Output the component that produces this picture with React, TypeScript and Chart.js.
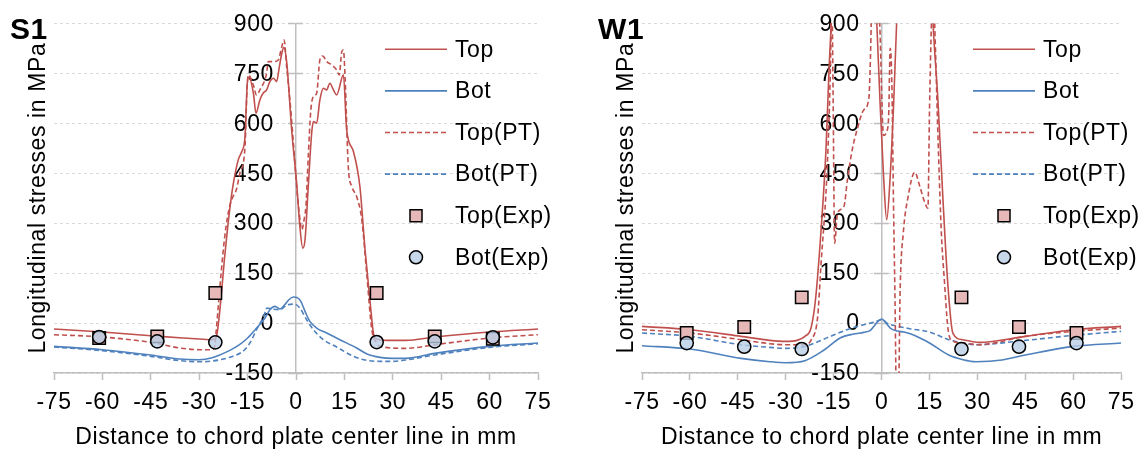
import React, { useEffect, useRef } from 'react';
import { Chart, registerables } from 'chart.js';

Chart.register(...registerables);

type Pt = [number, number];

const FONT = "'Liberation Sans', Arial, Helvetica, sans-serif";
const FONT_SIZE = 23;
const LETTER_SPACING = '0.6px';
Chart.defaults.font.family = FONT;
Chart.defaults.color = '#000';

// ---- axes / labels ----
const xTickValues = [-75, -60, -45, -30, -15, 0, 15, 30, 45, 60, 75];
const yTickValues = [-150, 0, 150, 300, 450, 600, 750, 900];
const seriesNames = ['Top', 'Bot', 'Top(PT)', 'Bot(PT)', 'Top(Exp)', 'Bot(Exp)'];
const panelLabels = ['S1', 'W1'];
const xAxisTitle = 'Distance to chord plate center line in mm';
const yAxisTitle = 'Longitudinal stresses in MPa';

// ---- S1 series (x in mm, y in MPa) ----
const s1Top: Pt[] = [
  [-75, -18], [-60, -27], [-45, -38], [-35, -45], [-30, -48], [-27, -50], [-25.5, -49], [-24.6, -38],
  [-23.8, 20], [-23, 100], [-22.2, 190], [-21.2, 285], [-20.3, 360], [-19.4, 420], [-17.9, 490],
  [-16.8, 515], [-15.8, 560], [-15.1, 720], [-14.6, 738], [-13.2, 690], [-12.4, 630], [-11.2, 670],
  [-10.2, 690], [-9.1, 700], [-8.1, 725], [-7, 735], [-6, 725], [-5.2, 767], [-4.4, 810], [-3.8, 828],
  [-2.9, 785], [-1.3, 575], [0.2, 420], [1.2, 290], [2.1, 225], [2.8, 250], [3.8, 410], [4.9, 575],
  [5.4, 605], [6.4, 600], [7.4, 670], [8.5, 705], [9.5, 700], [10.5, 720], [11.6, 700], [12.6, 685],
  [14.7, 745], [15.7, 580], [17.8, 515], [19.8, 410], [21.4, 220], [22.9, 70], [24, -30], [25, -48],
  [28, -52], [34, -52], [43, -42], [60, -27], [75, -18],
];
const s1Bot: Pt[] = [
  [-75, -70], [-60, -80], [-45, -96], [-36, -108], [-30, -110], [-26, -104], [-20.5, -82], [-17.5, -65],
  [-15, -45], [-12.2, -15], [-9.6, 15], [-8.1, 40], [-6.5, 50], [-5, 42], [-3.5, 55], [-2.2, 70],
  [-0.8, 78], [0.3, 77], [1.5, 65], [2.8, 35], [4.3, 5], [6.4, -15], [9.5, -30], [13.6, -50],
  [18.8, -75], [22, -93], [26, -103], [30, -106], [34, -106], [43, -91], [60, -70], [75, -60],
];
const s1TopPT: Pt[] = [
  [-75, -35], [-60, -42], [-45, -58], [-36, -75], [-30, -80], [-26, -80], [-25.3, -75], [-24.7, -20],
  [-24, 60], [-23.2, 150], [-22.2, 250], [-21.2, 320], [-20.3, 360], [-19.5, 380], [-18.5, 400],
  [-17.4, 450], [-15.8, 530], [-15.2, 700], [-14.8, 745], [-13.2, 714], [-12.2, 684], [-11.2, 700],
  [-9.1, 750], [-8.6, 785], [-7, 785], [-5.5, 790], [-4.4, 830], [-3.7, 850], [-2.9, 770], [-1.9, 670],
  [-0.8, 540], [0.2, 410], [1, 330], [1.8, 280], [2.5, 310], [3.1, 354], [3.8, 500], [4.6, 640],
  [5.4, 680], [6.4, 690], [7.4, 790], [8.3, 802], [9.5, 785], [11.1, 775], [12.6, 760], [13.4, 745],
  [14.2, 815], [14.7, 820], [15.2, 740], [16.2, 470], [17.3, 410], [18.8, 380], [20.4, 310],
  [21.9, 150], [23.5, -20], [25, -60], [26, -70], [34, -76], [43, -65], [60, -45], [75, -35],
];
const s1BotPT: Pt[] = [
  [-75, -72], [-60, -83], [-45, -100], [-36, -113], [-30, -116], [-26, -114], [-20, -101], [-16, -81],
  [-14, -55], [-12, -15], [-10, 20], [-9, 45], [-7.5, 42], [-5, 40], [-3, 53], [-0.5, 57], [1.2, 45],
  [3.3, 10], [5.4, -20], [8.5, -50], [12.6, -72], [17.8, -100], [21.9, -112], [26, -115], [30, -115],
  [34, -111], [43, -96], [60, -73], [75, -62],
];

// ---- W1 series ----
const w1Top: Pt[] = [
  [-75, -10], [-60, -20], [-44, -40], [-35, -52], [-30, -55], [-26.5, -52], [-24, -40], [-22.1, -15],
  [-20.7, 70], [-19, 272], [-17.4, 523], [-16.4, 775], [-15.5, 950], [-12, 1500], [-4, 1500],
  [-1.5, 900], [-0.4, 644], [0.6, 443], [1.6, 310], [2.7, 443], [3.7, 644], [4.7, 900], [6, 1400],
  [14, 1400], [16.1, 900], [17.6, 674], [19.2, 372], [20.7, 121], [22.3, -30], [25.4, -50],
  [30.5, -58], [45, -40], [60, -20], [75, -10],
];
const w1Bot: Pt[] = [
  [-75, -68], [-60, -78], [-44, -106], [-35, -116], [-30, -119], [-24, -113], [-18, -81], [-13, -45],
  [-8.7, -33], [-5.6, -28], [-3.5, -22], [-2, -5], [-0.8, 8], [0, 12], [1, 5], [2.7, -15], [5, -24],
  [7, -27], [10, -36], [12, -45], [15, -60], [21, -96], [25.5, -110], [29.5, -116], [37.7, -111],
  [45, -96], [60, -70], [75, -60],
];
const w1TopPT: Pt[] = [
  [-75, -20], [-60, -30], [-44, -50], [-35, -62], [-30, -65], [-24, -65], [-22, -50], [-20, 20],
  [-19, 171], [-17, 473], [-16, 775], [-15.6, 1000], [-15.2, 700], [-14.7, 240], [-13.8, 330],
  [-11.8, 350], [-10.7, 430], [-9.2, 520], [-7.6, 583], [-5.6, 640], [-4, 674], [-3.5, 795], [-3, 1000],
  [-2, 1100], [-0.6, 900], [0.6, 563], [1.6, 575], [2.2, 620], [2.7, 825], [3.2, 724], [3.7, 372],
  [4.2, 70], [4.6, -200], [5.3, -200], [5.8, 100], [6.8, 272], [8.3, 380], [10.4, 453], [11.9, 412],
  [13.5, 362], [14.5, 345], [15, 644], [15.6, 900], [16.1, 1000], [16.6, 900], [17.6, 573],
  [18.7, 272], [19.7, 121], [20.7, -10], [21.7, -50], [25.4, -60], [30.5, -65], [45, -40], [60, -25],
  [75, -15],
];
const w1BotPT: Pt[] = [
  [-75, -30], [-60, -40], [-44, -65], [-35, -73], [-30, -76], [-24, -70], [-16, -40], [-10, -17],
  [-5.6, -5], [-2.5, 2], [0, 10], [2, -2], [4.2, -8], [8.8, -17], [15, -27], [21, -50], [25.4, -60],
  [29.5, -65], [45, -52], [60, -37], [75, -25],
];

// ---- experimental points ----
const expX = [-61, -43, -25, 25, 43, 61];
const s1TopExp = [-45, -40, 90, 90, -40, -47];
const s1BotExp = [-42, -55, -58, -57, -55, -43];
const w1TopExp = [-30, -12, 77, 77, -12, -30];
const w1BotExp = [-60, -71, -78, -78, -71, -60];

// ---- styles ----
const RED = '#C0504D';
const BLUE = '#4F81BD';
const SQUARE_FILL = '#E6B9B8';
const CIRCLE_FILL = 'rgba(185,205,229,0.78)';
const AXIS = '#BFBFBF';
const GRID = '#D9D9D9';
const DASH = [5, 3];

function buildDatasets(top: Pt[], bot: Pt[], topPT: Pt[], botPT: Pt[], topExp: number[], botExp: number[]) {
  const pts = (arr: Pt[]) => arr.map(([x, y]) => ({ x, y }));
  const exp = (ys: number[]) => expX.map((x, i) => ({ x, y: ys[i] }));
  const line = (label: string, data: Pt[], color: string, dash: number[], order: number) => ({
    label,
    data: pts(data),
    borderColor: color,
    backgroundColor: color,
    borderWidth: 1.6,
    borderDash: dash,
    pointRadius: 0,
    pointHoverRadius: 0,
    cubicInterpolationMode: 'monotone',
    fill: false,
    order,
  });
  const marks = (label: string, ys: number[], style: string, fill: string, r: number, order: number) => ({
    label,
    data: exp(ys),
    showLine: false,
    pointStyle: style,
    pointRadius: r,
    pointHoverRadius: r,
    pointBackgroundColor: fill,
    pointBorderColor: '#000',
    pointBorderWidth: 1.5,
    borderColor: '#000',
    backgroundColor: fill,
    order,
  });
  return [
    line(seriesNames[0], top, RED, [], 2),
    line(seriesNames[1], bot, BLUE, [], 3),
    line(seriesNames[2], topPT, RED, DASH, 4),
    line(seriesNames[3], botPT, BLUE, DASH, 5),
    marks(seriesNames[4], topExp, 'rect', SQUARE_FILL, 8.8, 1),
    marks(seriesNames[5], botExp, 'circle', CIRCLE_FILL, 6.6, 0),
  ];
}

function makeDecor(label: string) {
  return {
    id: 'decor',
    beforeDraw(chart: any) {
      (chart.ctx as any).letterSpacing = LETTER_SPACING;
    },
    beforeDatasetsDraw(chart: any) {
      const { ctx, scales } = chart;
      const ax = scales.x.getPixelForValue(0);
      ctx.save();
      ctx.strokeStyle = AXIS;
      ctx.lineWidth = 1.5;
      yTickValues.forEach((v) => {
        const py = Math.round(scales.y.getPixelForValue(v)) + 0.5;
        ctx.beginPath();
        ctx.moveTo(ax, py);
        ctx.lineTo(ax + 7, py);
        ctx.stroke();
      });
      // y tick labels, left of the centre axis
      ctx.fillStyle = '#000';
      ctx.font = `${FONT_SIZE}px ${FONT}`;
      ctx.textAlign = 'right';
      ctx.textBaseline = 'middle';
      yTickValues.forEach((v) => {
        const py = scales.y.getPixelForValue(v);
        ctx.fillText(String(v), ax - 22, py + 1);
      });
      ctx.restore();
    },
    afterDraw(chart: any) {
      const { ctx, chartArea } = chart;
      ctx.save();
      ctx.fillStyle = '#000';
      ctx.font = `bold 30px ${FONT}`;
      ctx.textAlign = 'left';
      ctx.textBaseline = 'alphabetic';
      ctx.fillText(label, chartArea.left - 44, 39);

      ctx.save();
      ctx.font = `${FONT_SIZE}px ${FONT}`;
      ctx.translate(chartArea.left - 9, (chartArea.top + chartArea.bottom) / 2);
      ctx.rotate(-Math.PI / 2);
      ctx.textAlign = 'center';
      ctx.fillText(yAxisTitle, 0, 0);
      ctx.restore();

      // legend inside plot area
      const lx = chartArea.left + 331;
      const datasets = chart.data.datasets;
      datasets.forEach((ds: any, i: number) => {
        const cy = chartArea.top + 26 + i * 41.6;
        if (ds.showLine === false) {
          const cx = lx + 31;
          ctx.save();
          ctx.lineWidth = 1.5;
          ctx.strokeStyle = '#000';
          ctx.fillStyle = ds.pointBackgroundColor;
          ctx.beginPath();
          if (ds.pointStyle === 'rect') {
            ctx.rect(cx - 6, cy - 6, 12, 12);
          } else {
            ctx.arc(cx, cy, 6.5, 0, Math.PI * 2);
          }
          ctx.fill();
          ctx.stroke();
          ctx.restore();
        } else {
          ctx.save();
          ctx.strokeStyle = ds.borderColor;
          ctx.lineWidth = 1.6;
          ctx.setLineDash(ds.borderDash || []);
          ctx.beginPath();
          ctx.moveTo(lx, cy);
          ctx.lineTo(lx + 62, cy);
          ctx.stroke();
          ctx.restore();
        }
        ctx.font = `${FONT_SIZE}px ${FONT}`;
        ctx.textAlign = 'left';
        ctx.textBaseline = 'middle';
        ctx.fillStyle = '#000';
        ctx.fillText(ds.label, lx + 70, cy + 1);
      });
      ctx.restore();
    },
  };
}

type PanelProps = {
  left: number;
  width: number;
  padLeft: number;
  padRight: number;
  label: string;
  datasets: any[];
};

function Panel({ left, width, padLeft, padRight, label, datasets }: PanelProps) {
  const ref = useRef<HTMLCanvasElement>(null);
  useEffect(() => {
    const canvas = ref.current;
    if (!canvas) return;
    const chart = new Chart(canvas, {
      type: 'line',
      data: { datasets },
      options: {
        animation: false,
        responsive: false,
        devicePixelRatio: 1,
        events: [],
        layout: { padding: { left: padLeft, right: padRight, top: 23.3, bottom: 0 } },
        plugins: {
          legend: { display: false },
          tooltip: { enabled: false },
          title: { display: false },
        },
        scales: {
          x: {
            type: 'linear',
            position: 'bottom',
            min: -75,
            max: 75,
            afterBuildTicks: (s: any) => {
              s.ticks = xTickValues.map((v) => ({ value: v }));
            },
            afterFit: (s: any) => {
              s.height = 76;
            },
            grid: {
              drawOnChartArea: false,
              drawTicks: true,
              tickLength: 7,
              tickColor: AXIS,
              tickWidth: 1.5,
              color: AXIS,
            },
            border: { display: true, color: AXIS, width: 1.5 },
            ticks: {
              font: { size: FONT_SIZE },
              color: '#000',
              padding: 9,
              maxRotation: 0,
              autoSkip: false,
            },
            title: {
              display: true,
              text: xAxisTitle,
              font: { size: FONT_SIZE, lineHeight: 1 },
              color: '#000',
              padding: { top: 0, bottom: 0 },
            },
          },
          y: {
            type: 'linear',
            position: { x: 0 },
            min: -150,
            max: 900,
            afterBuildTicks: (s: any) => {
              s.ticks = yTickValues.map((v) => ({ value: v }));
            },
            grid: {
              color: GRID,
              lineWidth: 1,
              drawOnChartArea: true,
              drawTicks: true,
              tickLength: 7,
              tickColor: AXIS,
              tickWidth: 1.5,
              tickBorderDash: [],
            },
            border: { display: true, color: AXIS, width: 1.5, dash: [3, 3] },
            ticks: { display: false },
          },
        },
      } as any,
      plugins: [makeDecor(label)],
    });
    return () => chart.destroy();
  }, []);
  return (
    <canvas
      ref={ref}
      width={width}
      height={449}
      style={{ position: 'absolute', left, top: 0, width, height: 449 }}
    />
  );
}

export default function App() {
  const s1 = buildDatasets(s1Top, s1Bot, s1TopPT, s1BotPT, s1TopExp, s1BotExp);
  const w1 = buildDatasets(w1Top, w1Bot, w1TopPT, w1BotPT, w1TopExp, w1BotExp);
  return (
    <div
      style={{
        position: 'fixed',
        left: 0,
        top: 0,
        width: 1143,
        height: 449,
        background: '#fff',
        overflow: 'hidden',
      }}
    >
      <Panel left={0} width={572} padLeft={54} padRight={34} label={panelLabels[0]} datasets={s1} />
      <Panel left={572} width={571} padLeft={70} padRight={15.7} label={panelLabels[1]} datasets={w1} />
    </div>
  );
}
